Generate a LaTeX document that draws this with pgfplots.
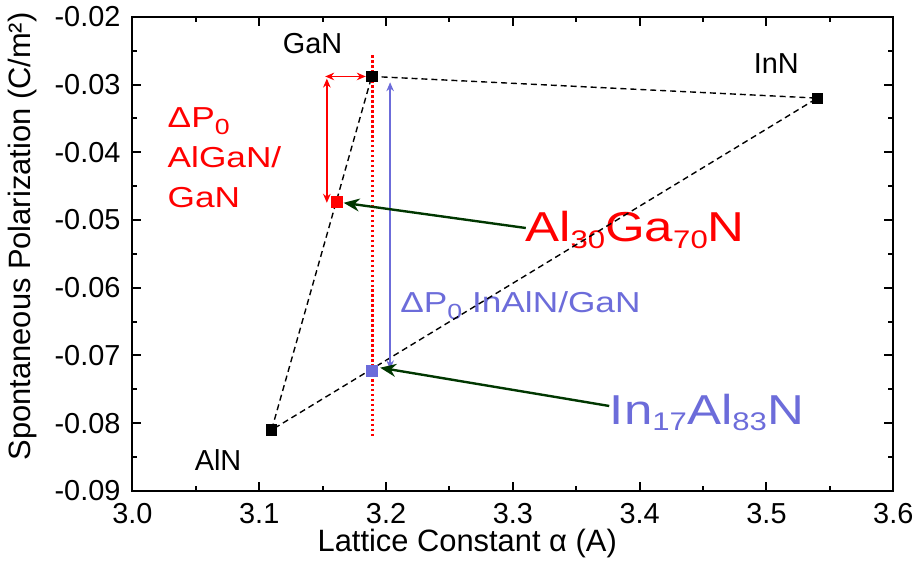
\documentclass[border=0pt]{standalone}
\usepackage{fontspec}
\setmainfont{Liberation Sans}
\newfontfamily\wide[FakeStretch=1.22]{Liberation Sans}
\usepackage{pgfplots}
\pgfplotsset{compat=1.18}
\usetikzlibrary{arrows.meta}
\definecolor{myred}{RGB}{255,0,0}
\definecolor{myblue}{RGB}{108,108,218}
\definecolor{mygreen}{RGB}{0,55,0}
\newcommand\nf{\fontsize{14.5}{17}\selectfont}
\newcommand\bigf{\fontsize{21}{24}\selectfont}
\newcommand\ssub[1]{\raisebox{-3.4pt}{\fontsize{11}{12}\selectfont #1}}
\newcommand\bsub[1]{\raisebox{-3.4pt}{\fontsize{12.8}{14}\selectfont #1}}
\begin{document}
\begin{tikzpicture}
\begin{axis}[
  scale only axis, width=382pt, height=238pt,
  xmin=3.0, xmax=3.6, ymin=-0.09, ymax=-0.02,
  xtick={3.0,3.1,3.2,3.3,3.4,3.5,3.6},
  ytick={-0.09,-0.08,-0.07,-0.06,-0.05,-0.04,-0.03,-0.02},
  minor x tick num=1, minor y tick num=1,
  scaled x ticks=false, scaled y ticks=false,
  tick align=inside,
  major tick length=4.5pt, minor tick length=2.5pt,
  axis line style={line width=1pt},
  every tick/.style={black, line width=1pt},
  tick label style={font=\nf},
  xticklabel style={/pgf/number format/.cd, fixed, fixed zerofill, precision=1, assume math mode=true},
  yticklabel style={/pgf/number format/.cd, fixed, fixed zerofill, precision=2, assume math mode=true},
  xticklabel shift=2.5pt, yticklabel shift=2.5pt,
  xlabel={Lattice Constant α (A)},
  ylabel={Spontaneous Polarization (C/m²)},
  label style={font=\fontsize{15.5}{18}\selectfont},
  xlabel style={at={(axis description cs:0.44,-0.128)}, anchor=base},
  ylabel style={at={(axis description cs:-0.1440,0.537)}, anchor=center},
  clip=false,
]
% text labels
\node[font=\nf, anchor=center] at (axis cs:3.1421,-0.02397) {GaN};
\node[font=\nf, anchor=center] at (axis cs:3.5077,-0.02684) {InN};
\node[font=\nf, anchor=center] at (axis cs:3.0675,-0.08544) {AlN};
\node[font=\nf\wide, text=myred, anchor=base west, inner sep=0pt] at (axis cs:3.0275,-0.03632) {ΔP\ssub{0}};
\node[font=\nf\wide, text=myred, anchor=base west, inner sep=0pt] at (axis cs:3.0275,-0.04221) {AlGaN/};
\node[font=\nf\wide, text=myred, anchor=base west, inner sep=0pt] at (axis cs:3.0275,-0.04809) {GaN};
\node[font=\nf\wide, text=myblue, anchor=base west, inner sep=0pt] at (axis cs:3.2110,-0.06368) {ΔP\ssub{0} InAlN/GaN};
\node[font=\bigf\wide, text=myred, anchor=base west, inner sep=0pt] at (axis cs:3.3094,-0.05319) {Al\bsub{30}Ga\bsub{70}N};
\node[font=\bigf\wide, text=myblue, anchor=base west, inner sep=0pt] at (axis cs:3.3762,-0.08015) {In\bsub{17}Al\bsub{83}N};
% triangle
\addplot[black, line width=0.7pt, dash pattern=on 3pt off 2pt] coordinates {
  (3.1887,-0.0288) (3.5401,-0.0320) (3.1097,-0.0810) (3.1887,-0.0288)};
% red dotted vertical
\addplot[myred, line width=1.5pt, dash pattern=on 1.2pt off 1.3pt] coordinates {(3.189,-0.0257) (3.189,-0.0821)};
% arrows
\draw[myred, line width=0.8pt, {Stealth[length=4.5pt,width=3.8pt]}-{Stealth[length=4.5pt,width=3.8pt]}] (axis cs:3.152,-0.0288) -- (axis cs:3.184,-0.0288);
\draw[myred, line width=0.8pt, {Stealth[length=4.5pt,width=3.8pt]}-{Stealth[length=4.5pt,width=3.8pt]}] (axis cs:3.1533,-0.02912) -- (axis cs:3.1533,-0.04746);
\draw[myblue, line width=0.8pt, {Stealth[length=4.5pt,width=3.8pt]}-{Stealth[length=4.5pt,width=3.8pt]}] (axis cs:3.2032,-0.02966) -- (axis cs:3.2032,-0.07206);
\draw[mygreen, line width=1.2pt, -{Stealth[length=8pt,width=6.5pt]}] (axis cs:3.3102,-0.05118) -- (axis cs:3.1665,-0.04746);
\draw[mygreen, line width=1.2pt, -{Stealth[length=8pt,width=6.5pt]}] (axis cs:3.3760,-0.07746) -- (axis cs:3.1953,-0.07181);
% points
\addplot[only marks, mark=square*, mark size=2.6pt, black] coordinates {(3.1887,-0.0288) (3.5401,-0.0320) (3.1097,-0.0810)};
\addplot[only marks, mark=square*, mark size=2.6pt, myred] coordinates {(3.1613,-0.04731)};
\addplot[only marks, mark=square*, mark size=2.8pt, myblue] coordinates {(3.1887,-0.07231)};
\end{axis}
\path ([shift={(-66.5pt,-40pt)}]current axis.south west) rectangle ([shift={(11.5pt,8pt)}]current axis.north east);
\end{tikzpicture}
\end{document}
